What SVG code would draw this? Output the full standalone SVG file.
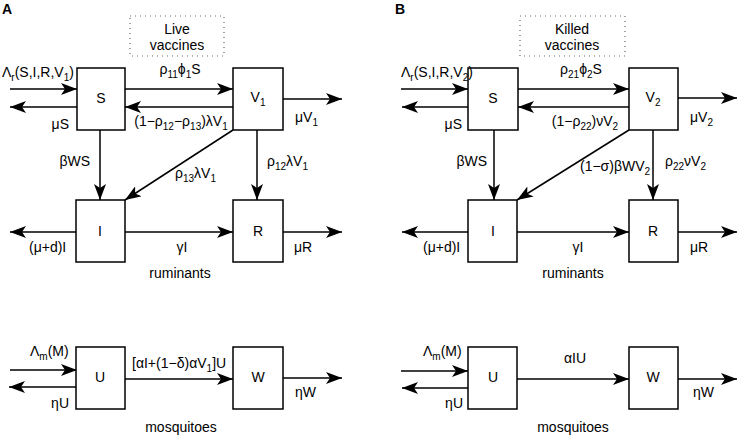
<svg xmlns="http://www.w3.org/2000/svg" width="738" height="437" viewBox="0 0 738 437">
<style>
text{font-family:"Liberation Sans",Arial,sans-serif;font-size:14px;fill:#000}
.b{font-weight:bold}
.m{text-anchor:middle}
.e{text-anchor:end}
.s{font-size:10px}
.box{fill:#fff;stroke:#000;stroke-width:1.5}
.dot{fill:none;stroke:#666;stroke-width:1.2;stroke-dasharray:1,4}
.c line{stroke:#000;stroke-width:1.5;marker-end:url(#ah)}
</style>
<defs>
<marker id="ah" markerUnits="userSpaceOnUse" markerWidth="16" markerHeight="12" viewBox="0 0 16 12" refX="16" refY="6" orient="auto">
<path d="M0,0 L16,6 L0,12 L4,6 z" fill="#000"/>
</marker>
</defs>
<rect width="738" height="437" fill="#fff"/>

<!-- Panel A -->
<text class="b" x="2" y="14">A</text>
<g id="A-live">
<rect class="dot" x="130" y="16" width="94" height="40"/>
<text class="m" x="177" y="34">Live</text>
<text class="m" x="177" y="50">vaccines</text>
</g>
<g class="c" id="A-connectors">
<line x1="10" y1="89" x2="77" y2="89"/>
<line x1="77" y1="107" x2="10" y2="107"/>
<line x1="125" y1="89" x2="233" y2="89"/>
<line x1="233" y1="107" x2="125" y2="107"/>
<line x1="283" y1="99" x2="342" y2="99"/>
<line x1="100" y1="130" x2="100" y2="200"/>
<line x1="233" y1="130" x2="125" y2="200"/>
<line x1="257" y1="130" x2="257" y2="200"/>
<line x1="76" y1="232" x2="10" y2="232"/>
<line x1="125" y1="232" x2="233" y2="232"/>
<line x1="283" y1="232" x2="342" y2="232"/>
<line x1="10" y1="370" x2="77" y2="370"/>
<line x1="77" y1="387" x2="9" y2="387"/>
<line x1="125" y1="379" x2="233" y2="379"/>
<line x1="283" y1="378" x2="342" y2="378"/>
</g>
<g id="A-S"><rect class="box" x="77" y="68" width="48" height="62"/><text class="m" x="101" y="103">S</text></g>
<g id="A-V1"><rect class="box" x="233" y="68" width="50" height="62"/><text class="m" x="258" y="102">V<tspan class="s" dy="4">1</tspan></text></g>
<g id="A-I"><rect class="box" x="76" y="200" width="49" height="62"/><text class="m" x="100" y="236">I</text></g>
<g id="A-R"><rect class="box" x="233" y="200" width="50" height="62"/><text class="m" x="258" y="236">R</text></g>
<g id="A-U"><rect class="box" x="76" y="347" width="49" height="62"/><text class="m" x="100" y="382">U</text></g>
<g id="A-W"><rect class="box" x="233" y="347" width="50" height="62"/><text class="m" x="258" y="382">W</text></g>
<g id="A-labels">
<text x="2" y="77">Λ<tspan class="s" dy="4">r</tspan><tspan dy="-4">(S,I,R,V</tspan><tspan class="s" dy="4">1</tspan><tspan dy="-4">)</tspan></text>
<text class="m" x="180" y="74">ρ<tspan class="s" dy="4">11</tspan><tspan dy="-4">ϕ</tspan><tspan class="s" dy="4">1</tspan><tspan dy="-4">S</tspan></text>
<text class="e" x="69" y="129">μS</text>
<text class="m" x="181" y="126">(1−ρ<tspan class="s" dy="4">12</tspan><tspan dy="-4">−ρ</tspan><tspan class="s" dy="4">13</tspan><tspan dy="-4">)λV</tspan><tspan class="s" dy="4">1</tspan></text>
<text x="295" y="122">μV<tspan class="s" dy="4">1</tspan></text>
<text class="e" x="90" y="166">βWS</text>
<text x="175" y="178">ρ<tspan class="s" dy="4">13</tspan><tspan dy="-4">λV</tspan><tspan class="s" dy="4">1</tspan></text>
<text x="267" y="166">ρ<tspan class="s" dy="4">12</tspan><tspan dy="-4">λV</tspan><tspan class="s" dy="4">1</tspan></text>
<text x="29" y="252">(μ+d)I</text>
<text class="m" x="182" y="252">γI</text>
<text x="294" y="252">μR</text>
<text class="m" x="180" y="278">ruminants</text>
<text x="30" y="356">Λ<tspan class="s" dy="4">m</tspan><tspan dy="-4">(M)</tspan></text>
<text class="e" x="69" y="408">ηU</text>
<text x="132" y="368">[αI+(1−δ)αV<tspan class="s" dy="4">1</tspan><tspan dy="-4">]U</tspan></text>
<text x="295" y="397">ηW</text>
<text class="m" x="181" y="432">mosquitoes</text>
</g>

<!-- Panel B -->
<text class="b" x="395" y="14">B</text>
<g id="B-killed">
<rect class="dot" x="520" y="16" width="105" height="40"/>
<text class="m" x="572" y="34">Killed</text>
<text class="m" x="572" y="50">vaccines</text>
</g>
<g class="c" id="B-connectors">
<line x1="401" y1="89" x2="468" y2="89"/>
<line x1="468" y1="107" x2="402" y2="107"/>
<line x1="518" y1="89" x2="629" y2="89"/>
<line x1="629" y1="107" x2="518" y2="107"/>
<line x1="678" y1="98" x2="737" y2="98"/>
<line x1="494" y1="130" x2="494" y2="200"/>
<line x1="629" y1="130" x2="517" y2="200"/>
<line x1="653" y1="130" x2="653" y2="200"/>
<line x1="468" y1="232" x2="402" y2="232"/>
<line x1="517" y1="232" x2="629" y2="232"/>
<line x1="678" y1="232" x2="737" y2="232"/>
<line x1="401" y1="371" x2="468" y2="371"/>
<line x1="468" y1="388" x2="402" y2="388"/>
<line x1="517" y1="379" x2="629" y2="379"/>
<line x1="678" y1="379" x2="737" y2="379"/>
</g>
<g id="B-S"><rect class="box" x="468" y="68" width="50" height="62"/><text class="m" x="493" y="103">S</text></g>
<g id="B-V2"><rect class="box" x="629" y="68" width="49" height="62"/><text class="m" x="653" y="102">V<tspan class="s" dy="4">2</tspan></text></g>
<g id="B-I"><rect class="box" x="468" y="200" width="49" height="62"/><text class="m" x="493" y="236">I</text></g>
<g id="B-R"><rect class="box" x="629" y="200" width="49" height="62"/><text class="m" x="653" y="236">R</text></g>
<g id="B-U"><rect class="box" x="468" y="347" width="49" height="62"/><text class="m" x="493" y="382">U</text></g>
<g id="B-W"><rect class="box" x="629" y="347" width="49" height="62"/><text class="m" x="653" y="382">W</text></g>
<g id="B-labels">
<text x="401" y="77">Λ<tspan class="s" dy="4">r</tspan><tspan dy="-4">(S,I,R,V</tspan><tspan class="s" dy="4">2</tspan><tspan dy="-4">)</tspan></text>
<text class="m" x="581" y="74">ρ<tspan class="s" dy="4">21</tspan><tspan dy="-4">ϕ</tspan><tspan class="s" dy="4">2</tspan><tspan dy="-4">S</tspan></text>
<text class="e" x="462" y="129">μS</text>
<text class="m" x="585" y="126">(1−ρ<tspan class="s" dy="4">22</tspan><tspan dy="-4">)νV</tspan><tspan class="s" dy="4">2</tspan></text>
<text x="690" y="122">μV<tspan class="s" dy="4">2</tspan></text>
<text class="e" x="487" y="166">βWS</text>
<text x="580" y="171">(1−σ)βWV<tspan class="s" dy="4">2</tspan></text>
<text x="665" y="166">ρ<tspan class="s" dy="4">22</tspan><tspan dy="-4">νV</tspan><tspan class="s" dy="4">2</tspan></text>
<text x="423" y="252">(μ+d)I</text>
<text class="m" x="578" y="252">γI</text>
<text x="690" y="252">μR</text>
<text class="m" x="573" y="278">ruminants</text>
<text x="423" y="356">Λ<tspan class="s" dy="4">m</tspan><tspan dy="-4">(M)</tspan></text>
<text class="e" x="463" y="408">ηU</text>
<text class="m" x="575" y="363">αIU</text>
<text x="693" y="397">ηW</text>
<text class="m" x="573" y="432">mosquitoes</text>
</g>
</svg>
